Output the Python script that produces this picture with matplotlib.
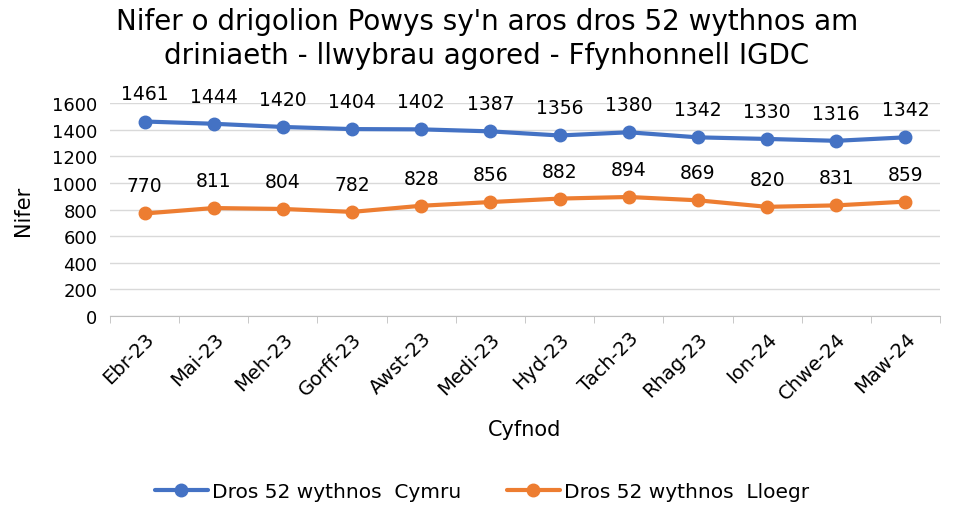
import matplotlib
matplotlib.use("Agg")
import matplotlib.pyplot as plt

months = ["Ebr-23", "Mai-23", "Meh-23", "Gorff-23", "Awst-23", "Medi-23",
          "Hyd-23", "Tach-23", "Rhag-23", "Ion-24", "Chwe-24", "Maw-24"]
cymru = [1461, 1444, 1420, 1404, 1402, 1387, 1356, 1380, 1342, 1330, 1316, 1342]
lloegr = [770, 811, 804, 782, 828, 856, 882, 894, 869, 820, 831, 859]
yticks = [0, 200, 400, 600, 800, 1000, 1200, 1400, 1600]

title = "Nifer o drigolion Powys sy'n aros dros 52 wythnos am\ndriniaeth - llwybrau agored - Ffynhonnell IGDC"
blue = "#4472C4"
orange = "#ED7D31"
txt = "#000000"

plt.rcParams['font.family'] = ['DejaVu Sans']

fig = plt.figure(figsize=(9.61, 5.06), dpi=100)
ax = fig.add_axes([110/961, 1-317/506, 830/961, 213/506])

x = list(range(len(months)))
ax.plot(x, cymru, color=blue, lw=3, marker='o', ms=9, label="Dros 52 wythnos  Cymru",
        solid_capstyle='round', zorder=3)
ax.plot(x, lloegr, color=orange, lw=3, marker='o', ms=9, label="Dros 52 wythnos  Lloegr",
        solid_capstyle='round', zorder=3)

for xi, v in zip(x, cymru):
    ax.annotate(str(v), (xi, v), xytext=(0, 13), textcoords='offset points',
                ha='center', va='bottom', fontsize=13.5, color=txt, annotation_clip=False)
for xi, v in zip(x, lloegr):
    ax.annotate(str(v), (xi, v), xytext=(0, 13), textcoords='offset points',
                ha='center', va='bottom', fontsize=13.5, color=txt, annotation_clip=False)

ax.set_xlim(-0.5, len(months) - 0.5)
ax.set_ylim(0, 1600)
ax.set_yticks(yticks)
ax.set_yticklabels([str(t) for t in yticks], fontsize=13)
ax.set_xticks(x)
ax.set_xticklabels(months, rotation=45, ha='right', rotation_mode='anchor', fontsize=14)
ax.tick_params(axis='y', length=0, pad=9)
ax.tick_params(axis='x', length=0, pad=9)
# category boundary ticks
ax.set_xticks([i - 0.5 for i in range(len(months) + 1)], minor=True)
ax.tick_params(axis='x', which='minor', length=5, color='#bfbfbf', direction='out')

ax.grid(axis='y', color='#d9d9d9', lw=1)
ax.set_axisbelow(True)
for s in ['top', 'right', 'left']:
    ax.spines[s].set_visible(False)
ax.spines['bottom'].set_color('#bfbfbf')

ax.set_ylabel("Nifer", fontsize=15, labelpad=14)
ax.set_xlabel("Cyfnod", fontsize=15, labelpad=12)

fig.text(487/961, 1-39/506, title, ha='center', va='center', fontsize=20,
         linespacing=1.3, color=txt)

fig.legend(loc='center', bbox_to_anchor=(482/961, 1-493/506), ncol=2, frameon=False,
           fontsize=14.5, handlelength=2.6, columnspacing=2.3, handletextpad=0.2)

fig.savefig("out.png", dpi=100, facecolor='white')
